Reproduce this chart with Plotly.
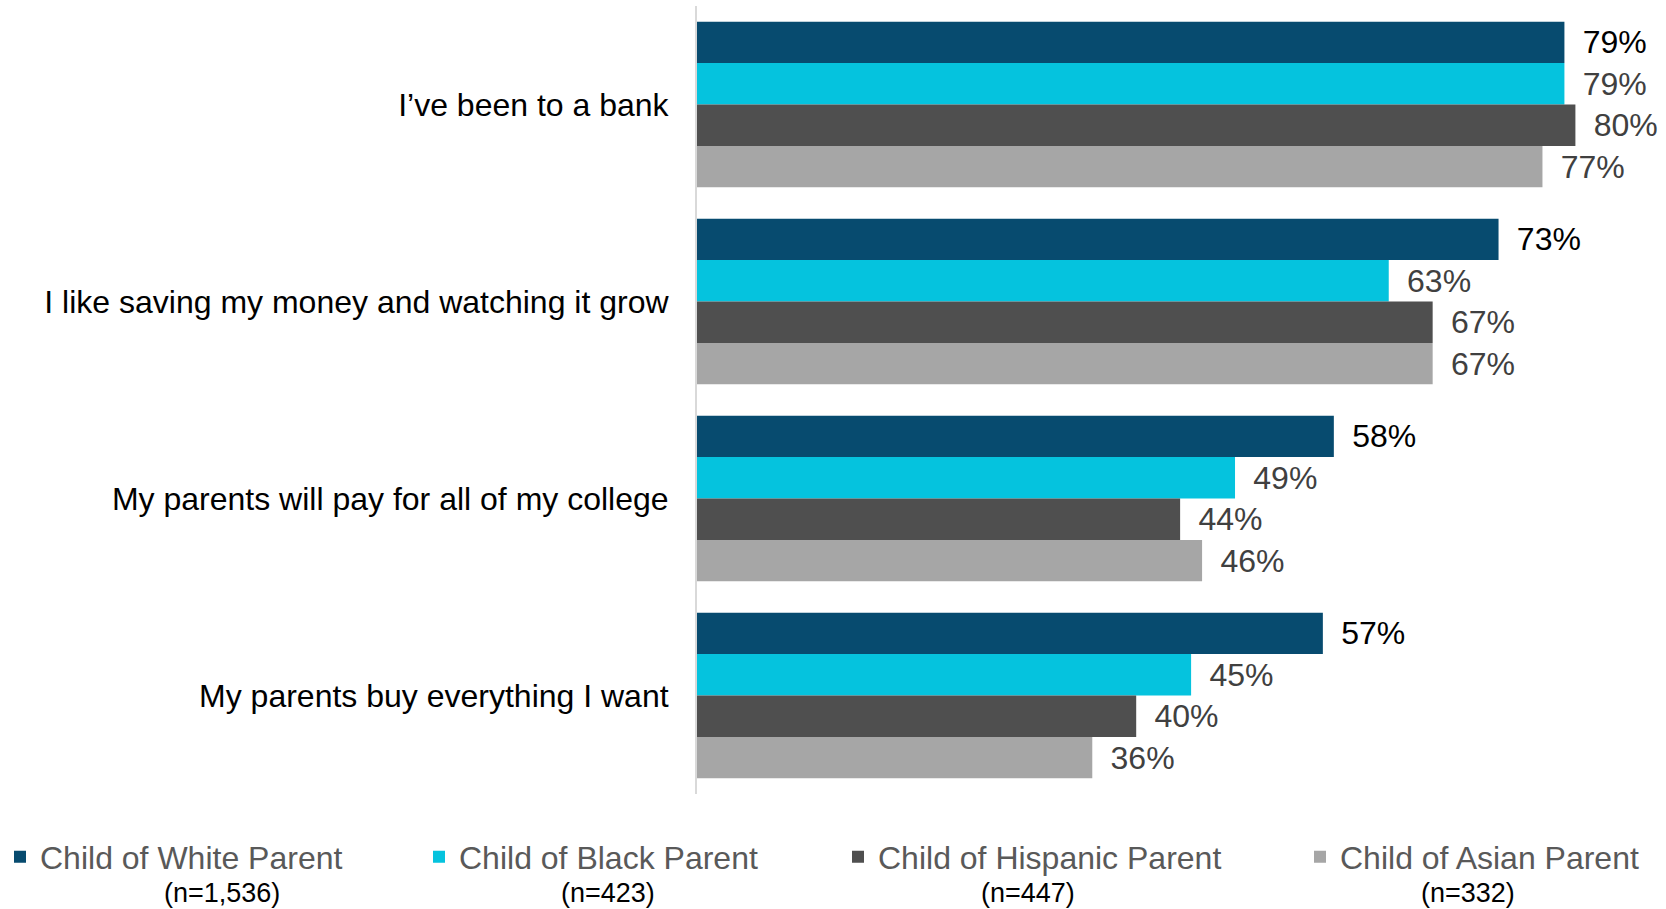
import plotly.graph_objects as go

categories = [
    "I’ve been to a bank",
    "I like saving my money and watching it grow",
    "My parents will pay for all of my college",
    "My parents buy everything I want",
]
series_names = ["Child of White Parent", "Child of Black Parent",
                "Child of Hispanic Parent", "Child of Asian Parent"]
sample_sizes = ["(n=1,536)", "(n=423)", "(n=447)", "(n=332)"]
white = [79, 73, 58, 57]
black = [79, 63, 49, 45]
hispanic = [80, 67, 44, 40]
asian = [77, 67, 46, 36]

series_values = [white, black, hispanic, asian]
colors = ["#074B6F", "#05C3DE", "#4F4F4F", "#A6A6A6"]
label_colors = ["#000000", "#404040", "#404040", "#404040"]

W, H = 1666, 909
ML, MR, MT, MB = 697, 0, 6, 115
plot_w = W - ML - MR
plot_h = H - MT - MB
FONT = "Liberation Sans, Arial, sans-serif"

def px_x(px):
    return (px - ML) / plot_w

def px_y(py):
    return (H - MB - py) / plot_h

fig = go.Figure()
legend_ids = ["legend", "legend2", "legend3", "legend4"]
for name, vals, col, lcol, lid in zip(series_names, series_values, colors, label_colors, legend_ids):
    fig.add_trace(go.Bar(
        y=categories, x=vals, name=name, orientation="h",
        marker=dict(color=col, line=dict(width=0)),
        text=[f" \u2009{v}%" for v in vals], textposition="outside",
        textfont=dict(family=FONT, size=32, color=lcol),
        cliponaxis=False, legend=lid,
    ))

legend_text_x = [38, 459, 878, 1340]
layout_legends = {}
for lid, tx in zip(legend_ids, legend_text_x):
    layout_legends[lid] = dict(
        xref="container", yref="container",
        x=(tx - 40) / W, y=1 - 857 / H,
        xanchor="left", yanchor="middle",
        font=dict(family=FONT, size=32, color="#595959"),
        bgcolor="rgba(0,0,0,0)", borderwidth=0,
        orientation="h",
    )

n_centers = [222, 608, 1028, 1468]
for txt, cx in zip(sample_sizes, n_centers):
    fig.add_annotation(
        text=txt, xref="paper", yref="paper",
        x=px_x(cx), y=px_y(893), xanchor="center", yanchor="middle",
        showarrow=False, font=dict(family=FONT, size=27, color="#000000"),
    )

fig.update_layout(
    width=W, height=H,
    margin=dict(l=ML, r=MR, t=MT, b=MB),
    paper_bgcolor="white", plot_bgcolor="white",
    barmode="group", bargap=0.159, bargroupgap=0,
    showlegend=True,
    **layout_legends,
    xaxis=dict(range=[0, plot_w / 10.98], visible=False, fixedrange=True),
    yaxis=dict(
        autorange="reversed", showline=True, linecolor="#D9D9D9", linewidth=2,
        showgrid=False, ticks="", ticklabelstandoff=20,
        tickfont=dict(family=FONT, size=32, color="#000000"),
    ),
    uniformtext=dict(mode=False),
)

fig.write_html("out.html", config={"displayModeBar": False},
               post_script="document.body.style.margin='0';")
